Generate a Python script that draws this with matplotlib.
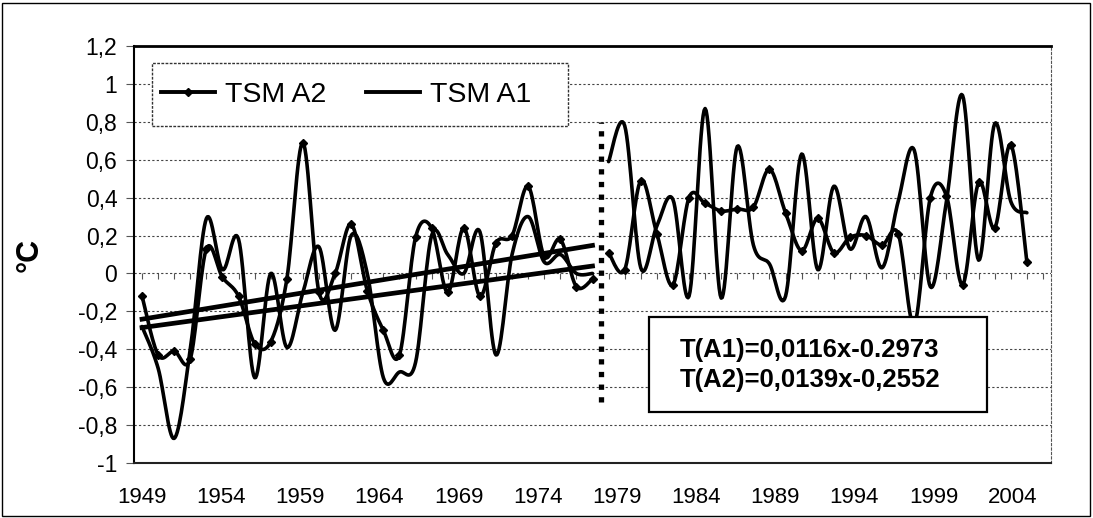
import numpy as np
import matplotlib
matplotlib.use("Agg")
import matplotlib.pyplot as plt
from matplotlib.lines import Line2D
from matplotlib.patches import Rectangle
from matplotlib.ticker import FuncFormatter

plt.rcParams['font.family'] = ['Liberation Sans', 'DejaVu Sans']

# ---- data ----
years_a = list(range(1949, 1978))
a2_a = [-0.12, -0.43, -0.41, -0.45, 0.13, -0.02, -0.12, -0.37, -0.36, -0.03,
        0.69, -0.10, 0.00, 0.26, -0.09, -0.30, -0.43, 0.19, 0.24, -0.10,
        0.24, -0.12, 0.16, 0.20, 0.46, 0.09, 0.18, -0.07, -0.03]
a1_a = [-0.28, -0.50, -0.87, -0.40, 0.29, 0.02, 0.18, -0.55, 0.00, -0.39,
        -0.10, 0.14, -0.30, 0.20, 0.00, -0.55, -0.52, -0.47, 0.20, 0.10,
        0.00, 0.22, -0.43, 0.10, 0.30, 0.06, 0.10, 0.00, 0.00]

years_b = list(range(1978, 2005))
a2_b = [0.11, 0.02, 0.49, 0.21, -0.06, 0.40, 0.37, 0.33, 0.34, 0.35,
        0.55, 0.32, 0.12, 0.29, 0.11, 0.19, 0.20, 0.15, 0.21, -0.27,
        0.40, 0.41, -0.06, 0.48, 0.24, 0.68, 0.06]
a1_b = [0.59, 0.78, 0.03, 0.25, 0.39, -0.12, 0.87, -0.13, 0.67, 0.15,
        0.05, -0.12, 0.63, 0.02, 0.46, 0.13, 0.30, 0.03, 0.38, 0.65,
        -0.07, 0.38, 0.94, 0.07, 0.79, 0.38, 0.32]

tick_years = list(range(1949, 2005, 5))
# the year labels in the original sit a little tighter than the data points
label_stretch = 0.984

# linear trends (x = 1..29 over the first period)
trend_a1 = (0.0116, -0.2973)
trend_a2 = (0.0139, -0.2552)
eq_lines = ["T(A1)=0,0116x-0.2973", "T(A2)=0,0139x-0,2552"]

break_year = 1977.5
break_span = (-0.68, 0.8)


def smooth(x, y, n=16):
    # excel-like smoothed line (bezier through the points)
    p = np.column_stack([x, y]).astype(float)
    ext = np.vstack([p[0], p, p[-1]])
    t = np.linspace(0, 1, n, endpoint=False)[:, None]
    out = []
    for i in range(len(p) - 1):
        p0, p1, p2, p3 = ext[i], ext[i + 1], ext[i + 2], ext[i + 3]
        c1 = p1 + (p2 - p0) / 6
        c2 = p2 - (p3 - p1) / 6
        seg = ((1 - t) ** 3) * p1 + 3 * ((1 - t) ** 2) * t * c1 + 3 * (1 - t) * t ** 2 * c2 + t ** 3 * p2
        out.append(seg)
    out.append(p[-1:])
    out = np.vstack(out)
    return out[:, 0], out[:, 1]


def fmt(v, pos):
    s = '%g' % round(v, 1)
    if s == '-0':
        s = '0'
    return s.replace('.', ',')


fig = plt.figure(figsize=(10.93, 5.18), dpi=100)
ax = fig.add_axes([134 / 1093, 1 - 463 / 518, 917 / 1093, 417 / 518])

for yrs, a2, a1 in [(years_a, a2_a, a1_a), (years_b, a2_b, a1_b)]:
    sx, sy = smooth(yrs, a1)
    ax.plot(sx, sy, color='black', lw=2.6, solid_capstyle='round', zorder=3)
    sx, sy = smooth(yrs, a2)
    ax.plot(sx, sy, color='black', lw=2.6, solid_capstyle='round', zorder=3)
    ax.plot(yrs, a2, ls='none', marker='D', ms=4.5, color='black', zorder=4)

# trend lines
xi = np.arange(1, len(years_a) + 1)
for slope, icpt in [trend_a1, trend_a2]:
    ax.plot(years_a, slope * xi + icpt, color='black', lw=3.4, zorder=3)

# dotted break line
ax.plot([break_year, break_year], break_span, color='black', lw=3.8,
        ls=(0, (1, 1.4)), zorder=5)

ax.set_xlim(1948.5, 2005.5)
ax.set_ylim(-1, 1.2)
ax.set_xticks([tick_years[0] + (y - tick_years[0]) * label_stretch for y in tick_years])
ax.set_xticklabels([str(y) for y in tick_years])
ax.set_yticks(np.round(np.arange(-1, 1.21, 0.2), 1))
ax.yaxis.set_major_formatter(FuncFormatter(fmt))
ax.tick_params(axis='x', length=0, labelsize=16, pad=17)
ax.tick_params(axis='y', length=6, color='#555', labelsize=16.5, pad=6)
ax.yaxis.grid(True, linestyle=(0, (2, 2)), color='#444', lw=0.8)
ax.set_axisbelow(True)

ax.spines['top'].set_linewidth(2)
ax.spines['left'].set_linewidth(1.5)
ax.spines['bottom'].set_linewidth(1.5)
ax.spines['bottom'].set_color('#222')
ax.spines['right'].set_linestyle((0, (2, 2)))
ax.spines['right'].set_color('#555')

# ticks along the zero line
sec = ax.secondary_xaxis(1 / 2.2)
sec.set_xticks(range(1949, 2006))
sec.set_xticklabels([])
sec.tick_params(length=4, color='#555', width=0.8, direction='out')
for s in sec.spines.values():
    s.set_visible(False)

ax.set_ylabel('°C', fontsize=22, fontweight='bold')
ax.yaxis.set_label_coords(-0.097, 0.5)

# legend: frame drawn separately so its size can match
ax.add_patch(Rectangle((0.0196, 0.808), 0.4537, 0.151, transform=ax.transAxes,
                       facecolor='white', edgecolor='#333', lw=1,
                       ls=(0, (2, 1)), zorder=5))
handles = [Line2D([], [], color='black', lw=2.8, marker='D', ms=4),
           Line2D([], [], color='black', lw=2.8)]
leg = ax.legend(handles, ['TSM A2', 'TSM A1'], ncol=2, loc='center left',
                bbox_to_anchor=(0.0294, 0.8825), fontsize=20.5, frameon=False,
                borderpad=0, handlelength=1.9, handletextpad=0.35,
                columnspacing=1.4, borderaxespad=0)
leg.set_zorder(6)

# equation box
ax.add_patch(Rectangle((0.5616, 0.122), 0.3684, 0.228, transform=ax.transAxes,
                       facecolor='white', edgecolor='black', lw=1.6, zorder=6))
ax.text(0.737, 0.272, eq_lines[0], transform=ax.transAxes, ha='center', va='center',
        fontsize=18.5, fontweight='bold', zorder=7)
ax.text(0.737, 0.200, eq_lines[1], transform=ax.transAxes, ha='center', va='center',
        fontsize=18.5, fontweight='bold', zorder=7)

fig.patches.append(Rectangle((0.002, 0.004), 0.995, 0.99, transform=fig.transFigure,
                             fill=False, lw=1, edgecolor='black'))

fig.savefig('out.png', dpi=100)
